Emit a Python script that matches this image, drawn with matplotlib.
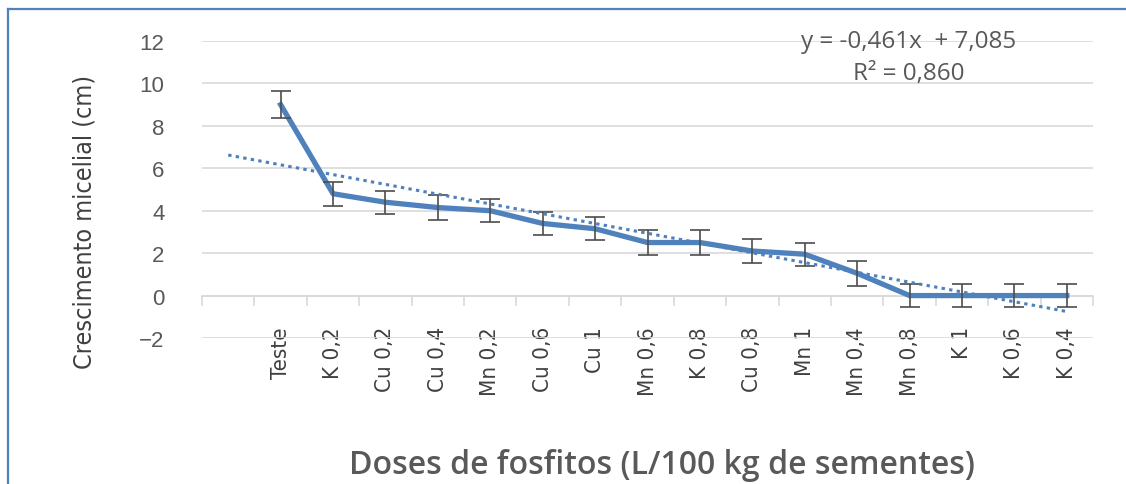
import numpy as np
import matplotlib
matplotlib.use('Agg')
import matplotlib.pyplot as plt
from matplotlib.lines import Line2D
from matplotlib.ticker import MultipleLocator

# categories (first slot is empty in the original chart)
categories = ['', 'Teste', 'K 0,2', 'Cu 0,2', 'Cu 0,4', 'Mn 0,2', 'Cu 0,6', 'Cu 1',
              'Mn 0,6', 'K 0,8', 'Cu 0,8', 'Mn 1', 'Mn 0,4', 'Mn 0,8', 'K 1',
              'K 0,6', 'K 0,4']
growth = [9.0, 4.8, 4.4, 4.15, 4.0, 3.4, 3.15, 2.5, 2.5, 2.1, 1.95, 1.05, 0.0, 0.0, 0.0, 0.0]
errors = [0.62, 0.56, 0.55, 0.58, 0.55, 0.56, 0.55, 0.57, 0.58, 0.55, 0.55, 0.6,
          0.55, 0.55, 0.55, 0.55]
slope = -0.461
intercept = 7.085
r2 = 0.860

blue = '#4f81bd'
grid = '#d9d9d9'

fig = plt.figure(figsize=(11.26, 4.85), dpi=100)
ax = fig.add_axes([202/1126, (485-339)/485, 891/1126, 297/485])

xs = np.arange(1, len(categories) + 1)
xd = xs[1:]

ax.plot(xd, growth, color=blue, lw=3.8, solid_joinstyle='round', zorder=3)
ax.errorbar(xd, growth, yerr=errors, fmt='none', ecolor='#4d4d4d', elinewidth=1.2,
            capsize=7, capthick=1.2, zorder=4)
ax.plot(xs, slope * xs + intercept, color=blue, lw=2.2, ls=(0, (1.1, 1.4)),
        dash_capstyle='butt', zorder=5)

ax.set_xlim(0.5, len(categories) + 0.5)
ax.set_ylim(-2, 12)
ax.yaxis.set_major_locator(MultipleLocator(2))
ax.grid(axis='y', color=grid, lw=1.2, zorder=0)
ax.set_axisbelow(True)

for s in ['top', 'right', 'left']:
    ax.spines[s].set_visible(False)
ax.spines['bottom'].set_position(('data', 0))
ax.spines['bottom'].set_color(grid)
ax.spines['bottom'].set_linewidth(1.2)

ax.set_xticks(xs)
ax.set_xticklabels(categories, rotation=90, family='DejaVu Sans', stretch='condensed',
                   fontsize=16, color='#404040')
ax.set_xticks(np.arange(0.5, len(categories) + 1, 1), minor=True)
ax.tick_params(axis='x', which='major', length=0, pad=22)
ax.tick_params(axis='x', which='minor', length=7, width=1.2, color=grid, direction='out')
ax.tick_params(axis='y', length=0, pad=27, labelsize=16, labelcolor='#595959')
ax.set_yticklabels(['\u22122' if v < 0 else str(int(v)) for v in ax.get_yticks()],
                   family='Liberation Sans')

fig.text(85/1126, 1 - 222/485, 'Crescimento micelial (cm)', rotation=90, ha='center',
         va='center', family='DejaVu Sans', stretch='condensed', fontsize=18,
         color='#404040')
fig.text(662/1126, 1 - 466/485, 'Doses de fosfitos (L/100 kg de sementes)', ha='center',
         va='center', family='Open Sans', fontsize=23, color='#595959',
         fontweight='semibold')
fig.text(909/1126, 1 - 42/485, f'y = {slope:.3f}x  + {intercept:.3f}'.replace('.', ','),
         ha='center', va='center', family='Open Sans', fontsize=17.5, color='#595959')
fig.text(909/1126, 1 - 74/485, f'R² = {r2:.3f}'.replace('.', ','), ha='center', va='center',
         family='Open Sans', fontsize=17.5, color='#595959')

# outer chart border (left and top edges visible)
fig.add_artist(Line2D([8/1126, 8/1126], [0, 1 - 10/485], color=blue, lw=1.6))
fig.add_artist(Line2D([8/1126, 1], [1 - 10/485, 1 - 10/485], color=blue, lw=1.6))

fig.savefig('out.png', dpi=100)
